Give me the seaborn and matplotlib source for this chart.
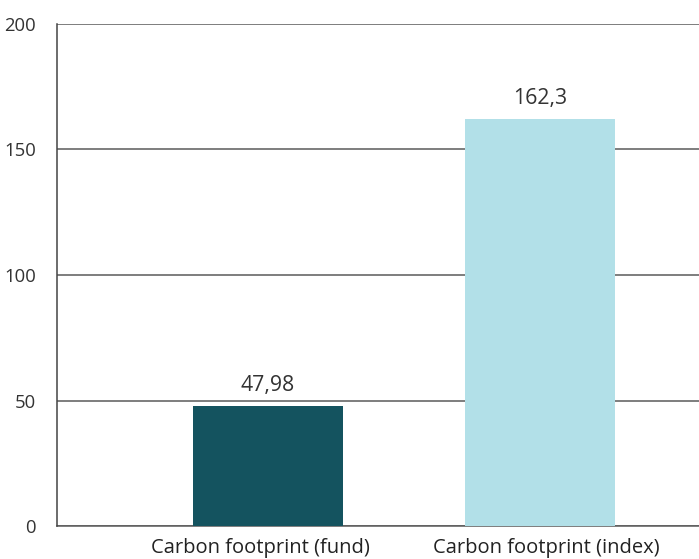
import matplotlib
matplotlib.use("Agg")
import matplotlib.pyplot as plt
import matplotlib.transforms as mtransforms
import seaborn as sns
import pandas as pd

categories = ["Carbon footprint (fund)", "Carbon footprint (index)"]
values = [47.98, 162.3]
value_labels = ["47,98", "162,3"]
colors = ["#14535F", "#B2E0E8"]
y_ticks = [0, 50, 100, 150, 200]

sns.set_theme(style="white")
plt.rcParams["font.family"] = ["Open Sans", "DejaVu Sans"]

df = pd.DataFrame({"category": categories, "value": values})

fig = plt.figure(figsize=(6.99, 5.59), dpi=100)
ax = fig.add_axes([57 / 699, 33 / 559, 642 / 699, 502 / 559])

sns.barplot(data=df, x="category", y="value", hue="category",
            palette=colors, width=0.55, saturation=1, legend=False,
            linewidth=0, ax=ax, zorder=3)

ax.set_ylim(0, 200)
ax.set_xlim(-0.776, 1.585)
ax.set_yticks(y_ticks)
ax.set_yticklabels([str(t) for t in y_ticks])
ax.yaxis.grid(True, color="#5a5a5a", linewidth=1.1)
ax.set_axisbelow(True)
ax.set_xlabel("")
ax.set_ylabel("")

for s in ["top", "right"]:
    ax.spines[s].set_visible(False)
ax.spines["left"].set_color("#444444")
ax.spines["left"].set_linewidth(1.1)
ax.spines["bottom"].set_color("#5a5a5a")
ax.spines["bottom"].set_linewidth(1.1)
ax.spines["bottom"].set_zorder(1)

ax.tick_params(axis="y", labelsize=13.3, labelcolor="#333333", length=0, pad=15)
ax.tick_params(axis="x", labelsize=14.5, labelcolor="#222222", length=0, pad=8.5)

# nudge the category labels sideways a little
for lbl, dx in zip(ax.get_xticklabels(), [-8, 6]):
    lbl.set_transform(lbl.get_transform() +
                      mtransforms.ScaledTranslation(dx / 100, 0, fig.dpi_scale_trans))

label_of = dict(zip(values, value_labels))
for cont in ax.containers:
    ax.bar_label(cont, labels=[label_of[v] for v in cont.datavalues],
                 padding=7, fontsize=15.3, color="#333333")

fig.savefig("out.png", dpi=100)
